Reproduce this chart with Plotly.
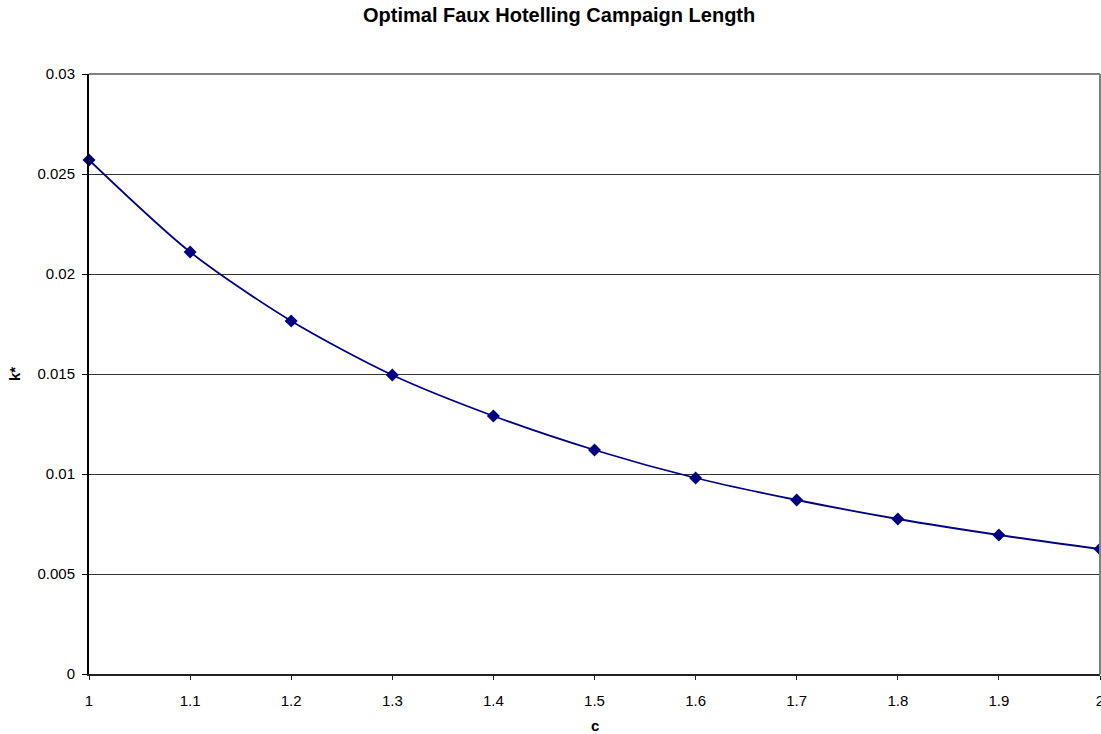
import plotly.graph_objects as go

# Cost parameter c and the optimal campaign length k*
c_values = [1.0, 1.1, 1.2, 1.3, 1.4, 1.5, 1.6, 1.7, 1.8, 1.9, 2.0]
k_star = [0.0257, 0.0211, 0.01765, 0.01495, 0.0129, 0.0112, 0.0098, 0.0087, 0.00775, 0.00695, 0.00625]

x_ticks = [1.0, 1.1, 1.2, 1.3, 1.4, 1.5, 1.6, 1.7, 1.8, 1.9, 2.0]
x_tick_labels = ["1", "1.1", "1.2", "1.3", "1.4", "1.5", "1.6", "1.7", "1.8", "1.9", "2"]
y_ticks = [0, 0.005, 0.01, 0.015, 0.02, 0.025, 0.03]
y_tick_labels = ["0", "0.005", "0.01", "0.015", "0.02", "0.025", "0.03"]

navy = "#000080"
font_family = "Liberation Sans, Arial, sans-serif"

fig = go.Figure()
fig.add_trace(go.Scatter(
    x=c_values, y=k_star,
    mode="lines+markers",
    line=dict(color=navy, width=1.8, shape="spline", smoothing=0.8),
    marker=dict(symbol="diamond", size=10, color=navy),
    cliponaxis=False,
    showlegend=False,
))

fig.update_layout(
    width=1101, height=734,
    margin=dict(l=89, r=1, t=74, b=60, autoexpand=False),
    paper_bgcolor="white", plot_bgcolor="white",
    font=dict(family=font_family, size=15, color="#000000"),
    showlegend=False,
    xaxis=dict(
        range=[1, 2], tickvals=x_ticks, ticktext=x_tick_labels,
        showgrid=False, zeroline=False,
        showline=True, linecolor="#222222", linewidth=2,
        ticks="outside", ticklen=4, tickcolor="#222222",
        tickfont=dict(size=15), ticklabelstandoff=8,
        ticklabeloverflow="allow", automargin=False,
    ),
    yaxis=dict(
        range=[0, 0.03], tickvals=y_ticks, ticktext=y_tick_labels,
        showgrid=True, gridcolor="#333333", gridwidth=1,
        zeroline=False,
        showline=True, linecolor="#000000", linewidth=2,
        ticks="outside", ticklen=5, tickcolor="#000000",
        tickfont=dict(size=15), ticklabelstandoff=4, automargin=False,
    ),
    annotations=[
        dict(text="<b>Optimal Faux Hotelling Campaign Length</b>", xref="paper", yref="paper",
             x=0.5, y=1, xshift=-36, yshift=59, xanchor="center", yanchor="middle",
             showarrow=False, font=dict(size=20)),
        dict(text="<b>c</b>", xref="paper", yref="paper", x=0.5, y=0, yshift=-51,
             xanchor="center", yanchor="middle", showarrow=False, font=dict(size=15)),
        dict(text="<b>k*</b>", xref="paper", yref="paper", x=0, y=0.5, xshift=-75,
             xanchor="center", yanchor="middle", showarrow=False, textangle=-90,
             font=dict(size=15)),
    ],
    shapes=[
        # grey frame on the top and right of the plotting area
        dict(type="line", xref="paper", yref="paper", x0=0, x1=1, y0=1, y1=1,
             line=dict(color="#808080", width=2)),
        dict(type="line", xref="paper", yref="paper", x0=1, x1=1, y0=0, y1=1,
             line=dict(color="#808080", width=2)),
    ],
)

fig.write_html("out.html")
